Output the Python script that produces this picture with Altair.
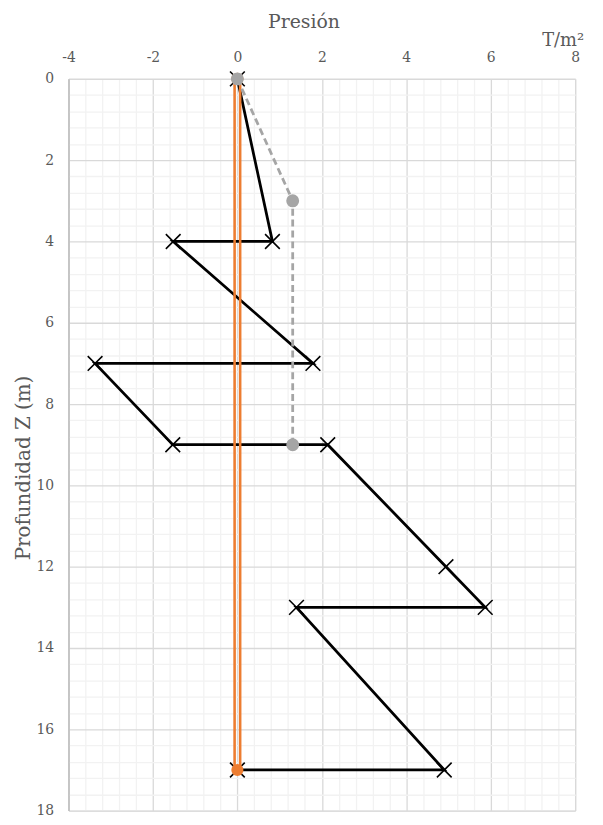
import altair as alt
import pandas as pd

# Black series (pressure diagram)
black_x = [0, 0.83, -1.52, 1.79, -3.37, -1.53, 2.14, 4.94, 5.87, 1.40, 4.90, 0]
black_z = [0, 4, 4, 7, 7, 9, 9, 12, 13, 13, 17, 17]
# Grey dashed series
grey_x = [0, 1.31, 1.31]
grey_z = [0, 3, 9]
# Orange series (double line)
orange_x = [0, 0]
orange_z = [0, 17]

x_ticks = [round(-4 + 0.4 * i, 1) for i in range(31)]
z_ticks = [round(0.4 * i, 1) for i in range(46)]

FONT = "DejaVu Serif"
TXT = "#595959"

black = pd.DataFrame({"x": black_x, "z": black_z, "i": list(range(len(black_x)))})
grey = pd.DataFrame({"x": grey_x, "z": grey_z, "i": list(range(len(grey_x)))})
orange = pd.DataFrame({"x": orange_x, "z": orange_z, "i": list(range(len(orange_x)))})

major = "abs(datum.value / 2 - round(datum.value / 2)) < 0.001"
lab = f"{major} ? ('' + round(datum.value)) : ''"

xscale = alt.Scale(domain=[-4, 8], nice=False, zero=False)
zscale = alt.Scale(domain=[0, 18], reverse=True, nice=False, zero=False)

xaxis = alt.Axis(
    orient="top", values=x_ticks, labelExpr=lab,
    ticks=False, labelPadding=14, labelColor=TXT, labelFont=FONT, labelFontSize=14,
    grid=True, gridColor=alt.condition(major, alt.value("#d9d9d9"), alt.value("#f2f2f2")),
    gridWidth=1.3, domainColor="#d9d9d9", domainWidth=1.3,
    title="Presión", titleFont=FONT, titleFontSize=19, titleColor=TXT,
    titleFontWeight="normal", titleX=237, titleY=-58, titleBaseline="middle",
    titleAlign="center", labelOverlap=False, labelFlush=False, labelBound=False,
)
zaxis = alt.Axis(
    orient="left", values=z_ticks, labelExpr=lab,
    ticks=False, labelPadding=15, labelColor=TXT, labelFont=FONT, labelFontSize=14,
    grid=True, gridColor=alt.condition(major, alt.value("#d9d9d9"), alt.value("#f2f2f2")),
    gridWidth=1.3, domainColor="#bfbfbf", domainWidth=1.6,
    title="Profundidad Z (m)", titleFont=FONT, titleFontSize=20, titleColor=TXT,
    titleFontWeight="normal", titleAngle=-90, titleX=-45, titleY=392,
    titleBaseline="middle", titleAlign="center", labelOverlap=False, labelFlush=False,
    labelBound=False,
)

X = alt.X("x:Q", scale=xscale, axis=xaxis)
Y = alt.Y("z:Q", scale=zscale, axis=zaxis)
O = alt.Order("i:Q")

xshape = "M-1,-1L1,1M-1,1L1,-1"

black_line = alt.Chart(black).mark_line(color="black", strokeWidth=2.8).encode(x=X, y=Y, order=O)
black_pts = alt.Chart(black).mark_point(
    shape=xshape, size=220, color="black", strokeWidth=1.6, filled=False, opacity=1
).encode(x=X, y=Y)

orange_l = alt.Chart(orange).mark_line(color="#ed7d31", strokeWidth=2.6, xOffset=-2.8).encode(x=X, y=Y, order=O)
orange_r = alt.Chart(orange).mark_line(color="#ed7d31", strokeWidth=2.6, xOffset=2.8).encode(x=X, y=Y, order=O)
orange_pts = alt.Chart(orange).mark_circle(color="#ed7d31", size=150, opacity=1).encode(x=X, y=Y)

grey_line = alt.Chart(grey).mark_line(color="#a5a5a5", strokeWidth=2.8, strokeDash=[7, 4]).encode(x=X, y=Y, order=O)
grey_pts = alt.Chart(grey).mark_circle(color="#a5a5a5", size=170, opacity=1).encode(x=X, y=Y)

unit = alt.Chart(pd.DataFrame({"x": [8], "z": [0], "t": ["T/m²"]})).mark_text(
    font=FONT, fontSize=18, color=TXT, align="right", baseline="alphabetic", dx=9
).encode(x=X, y=alt.value(-33), text="t:N")

chart = alt.layer(
    black_line, black_pts, orange_l, orange_r, orange_pts, grey_line, grey_pts, unit
).properties(
    width=511, height=738,
    padding={"left": 61, "top": 68, "right": 20, "bottom": 5},
    autosize="none",
).configure_view(stroke="#d9d9d9", strokeWidth=1.3).configure(background="white")

chart.save("out.html", embed_options={"renderer": "svg", "actions": False})
